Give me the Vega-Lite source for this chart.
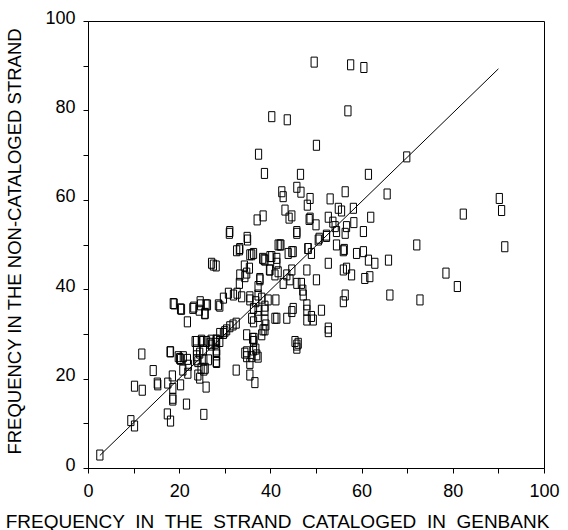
{
  "$schema": "https://vega.github.io/schema/vega-lite/v6.json",
  "width": 456,
  "height": 447,
  "autosize": {"type": "none"},
  "padding": {"left": 88, "top": 21, "right": 24, "bottom": 62},
  "background": "white",
  "config": {
    "view": {"stroke": "#000", "strokeWidth": 1},
    "font": "Liberation Sans",
    "axis": {
      "grid": false,
      "domainColor": "#000",
      "tickColor": "#000",
      "labelColor": "#000",
      "titleColor": "#000",
      "labelFont": "Liberation Sans",
      "titleFont": "Liberation Sans",
      "labelFontSize": 18,
      "titleFontSize": 18.5,
      "titleFontWeight": "normal",
      "tickSize": 5
    }
  },
  "layer": [
    {
      "data": {
        "values": [
          {"x": 49.6, "y": 90.8}, {"x": 57.6, "y": 90.2}, {"x": 60.5, "y": 89.6}, {"x": 40.3, "y": 78.6}, {"x": 43.7, "y": 77.9}, {"x": 57.0, "y": 79.9}, {"x": 50.1, "y": 72.2}, {"x": 37.4, "y": 70.2}, {"x": 38.7, "y": 65.9}, {"x": 46.6, "y": 65.7}, {"x": 61.5, "y": 65.7}, {"x": 69.9, "y": 69.6},
          {"x": 42.5, "y": 61.8}, {"x": 42.8, "y": 60.7}, {"x": 45.8, "y": 62.8}, {"x": 46.7, "y": 61.7}, {"x": 48.7, "y": 60.3}, {"x": 48.1, "y": 58.8}, {"x": 53.1, "y": 60.2}, {"x": 56.4, "y": 61.8}, {"x": 43.2, "y": 57.7}, {"x": 44.7, "y": 56.4}, {"x": 44.1, "y": 55.9}, {"x": 48.7, "y": 55.9}, {"x": 48.5, "y": 55.6}, {"x": 50.0, "y": 54.4}, {"x": 45.8, "y": 52.9}, {"x": 38.4, "y": 56.4}, {"x": 37.1, "y": 55.5}, {"x": 52.7, "y": 56.1}, {"x": 54.9, "y": 58.1}, {"x": 55.6, "y": 57.5}, {"x": 58.2, "y": 58.1}, {"x": 54.2, "y": 54.0}, {"x": 56.7, "y": 54.0}, {"x": 58.3, "y": 54.9}, {"x": 60.4, "y": 52.9}, {"x": 62.0, "y": 56.1}, {"x": 52.3, "y": 51.8}, {"x": 56.4, "y": 52.5}, {"x": 50.7, "y": 51.4}, {"x": 31.1, "y": 52.9}, {"x": 34.9, "y": 51.6}, {"x": 65.6, "y": 61.3}, {"x": 53.7, "y": 55.0},
          {"x": 31.0, "y": 52.5}, {"x": 35.0, "y": 51.0}, {"x": 33.3, "y": 49.1}, {"x": 32.6, "y": 48.6}, {"x": 33.2, "y": 48.8}, {"x": 35.9, "y": 47.7}, {"x": 42.1, "y": 49.9}, {"x": 44.7, "y": 48.4}, {"x": 45.8, "y": 52.5}, {"x": 38.3, "y": 46.9}, {"x": 39.9, "y": 47.3}, {"x": 41.4, "y": 46.9}, {"x": 27.5, "y": 45.4}, {"x": 28.1, "y": 45.2}, {"x": 27.1, "y": 45.8}, {"x": 34.3, "y": 45.2}, {"x": 35.4, "y": 44.7}, {"x": 39.9, "y": 44.3}, {"x": 41.0, "y": 43.2}, {"x": 43.6, "y": 43.2}, {"x": 44.7, "y": 44.3}, {"x": 48.2, "y": 49.1}, {"x": 48.0, "y": 44.3}, {"x": 37.7, "y": 42.4}, {"x": 33.3, "y": 43.2}, {"x": 34.4, "y": 42.8}, {"x": 34.8, "y": 43.6}, {"x": 33.2, "y": 41.3}, {"x": 38.8, "y": 46.5}, {"x": 40.3, "y": 47.3}, {"x": 41.7, "y": 49.9}, {"x": 39.8, "y": 44.3}, {"x": 41.4, "y": 45.8}, {"x": 37.7, "y": 42.1}, {"x": 37.3, "y": 40.6}, {"x": 38.6, "y": 46.7}, {"x": 35.5, "y": 47.7}, {"x": 36.3, "y": 48.0}, {"x": 41.7, "y": 43.9}, {"x": 42.8, "y": 41.3}, {"x": 44.3, "y": 42.1}, {"x": 45.8, "y": 41.3}, {"x": 46.8, "y": 41.3}, {"x": 47.1, "y": 39.8}, {"x": 47.2, "y": 38.7}, {"x": 50.1, "y": 42.1},
          {"x": 50.5, "y": 51.0}, {"x": 52.3, "y": 52.1}, {"x": 54.5, "y": 52.9}, {"x": 42.3, "y": 49.9}, {"x": 43.9, "y": 48.0}, {"x": 45.0, "y": 48.4}, {"x": 48.3, "y": 49.1}, {"x": 49.0, "y": 48.0}, {"x": 54.5, "y": 49.9}, {"x": 56.0, "y": 48.6}, {"x": 56.2, "y": 48.9}, {"x": 58.9, "y": 48.0}, {"x": 60.4, "y": 48.4}, {"x": 61.5, "y": 46.5}, {"x": 62.9, "y": 45.8}, {"x": 52.7, "y": 45.8}, {"x": 56.0, "y": 44.3}, {"x": 56.7, "y": 44.7}, {"x": 57.8, "y": 43.2}, {"x": 60.7, "y": 42.4}, {"x": 61.8, "y": 42.8},
          {"x": 90.2, "y": 60.3}, {"x": 90.7, "y": 57.6}, {"x": 82.3, "y": 56.8}, {"x": 72.1, "y": 49.9}, {"x": 91.4, "y": 49.5}, {"x": 65.9, "y": 46.5}, {"x": 78.5, "y": 43.6}, {"x": 81.0, "y": 40.6}, {"x": 66.2, "y": 38.7}, {"x": 72.8, "y": 37.6},
          {"x": 30.8, "y": 39.1}, {"x": 31.9, "y": 38.7}, {"x": 32.7, "y": 39.1}, {"x": 33.7, "y": 38.3}, {"x": 29.7, "y": 38.0}, {"x": 28.6, "y": 36.5}, {"x": 35.5, "y": 37.6}, {"x": 36.8, "y": 37.2}, {"x": 38.1, "y": 38.0}, {"x": 36.3, "y": 35.7}, {"x": 37.3, "y": 35.3}, {"x": 38.8, "y": 36.2}, {"x": 39.5, "y": 37.6}, {"x": 38.8, "y": 35.3}, {"x": 41.2, "y": 37.6}, {"x": 37.3, "y": 33.9}, {"x": 36.3, "y": 32.7}, {"x": 38.8, "y": 33.1}, {"x": 39.0, "y": 32.0}, {"x": 38.8, "y": 30.9}, {"x": 41.0, "y": 33.5}, {"x": 36.1, "y": 29.0}, {"x": 35.5, "y": 38.3}, {"x": 37.3, "y": 38.7}, {"x": 35.9, "y": 33.5}, {"x": 38.4, "y": 30.9}, {"x": 36.4, "y": 29.0}, {"x": 38.1, "y": 29.8},
          {"x": 56.0, "y": 37.2}, {"x": 56.4, "y": 38.7}, {"x": 48.0, "y": 36.5}, {"x": 48.0, "y": 35.3}, {"x": 45.0, "y": 35.7}, {"x": 44.7, "y": 35.0}, {"x": 43.6, "y": 33.5}, {"x": 41.4, "y": 33.5}, {"x": 48.0, "y": 33.1}, {"x": 49.0, "y": 33.9}, {"x": 49.4, "y": 33.1}, {"x": 51.2, "y": 35.3}, {"x": 52.7, "y": 31.3}, {"x": 45.4, "y": 28.3}, {"x": 46.1, "y": 27.9}, {"x": 45.8, "y": 26.8}, {"x": 45.8, "y": 27.5}, {"x": 52.7, "y": 30.5},
          {"x": 18.7, "y": 36.8}, {"x": 20.3, "y": 35.6}, {"x": 23.0, "y": 35.7}, {"x": 24.6, "y": 37.2}, {"x": 26.2, "y": 36.5}, {"x": 24.4, "y": 35.3}, {"x": 25.7, "y": 34.6}, {"x": 21.8, "y": 32.7}, {"x": 30.4, "y": 30.9}, {"x": 31.1, "y": 31.6}, {"x": 29.7, "y": 30.1}, {"x": 28.2, "y": 28.6}, {"x": 27.9, "y": 27.9}, {"x": 27.1, "y": 27.5}, {"x": 26.0, "y": 28.3}, {"x": 24.9, "y": 28.6}, {"x": 23.5, "y": 28.3}, {"x": 25.3, "y": 26.4}, {"x": 28.2, "y": 26.4}, {"x": 34.8, "y": 26.0}, {"x": 36.3, "y": 26.4}, {"x": 37.0, "y": 25.3}, {"x": 34.8, "y": 24.9}, {"x": 34.8, "y": 29.8}, {"x": 18.9, "y": 36.7}, {"x": 20.5, "y": 35.5}, {"x": 23.2, "y": 36.0}, {"x": 24.7, "y": 36.5}, {"x": 25.9, "y": 36.5}, {"x": 25.6, "y": 34.5}, {"x": 28.9, "y": 36.2}, {"x": 28.9, "y": 30.1}, {"x": 30.0, "y": 30.5}, {"x": 31.8, "y": 32.0}, {"x": 32.5, "y": 32.4}, {"x": 23.8, "y": 28.3}, {"x": 25.2, "y": 28.3}, {"x": 27.0, "y": 28.6}, {"x": 28.1, "y": 28.6}, {"x": 26.8, "y": 27.9}, {"x": 28.9, "y": 28.3}, {"x": 36.3, "y": 28.3}, {"x": 36.8, "y": 26.6},
          {"x": 18.0, "y": 26.0}, {"x": 19.8, "y": 24.9}, {"x": 20.9, "y": 24.9}, {"x": 23.8, "y": 25.1}, {"x": 2.6, "y": 2.9}, {"x": 9.4, "y": 10.6}, {"x": 10.2, "y": 9.4}, {"x": 17.4, "y": 12.1}, {"x": 18.1, "y": 10.5}, {"x": 25.4, "y": 12.0}, {"x": 18.6, "y": 15.6}, {"x": 18.6, "y": 15.2}, {"x": 21.6, "y": 14.3}, {"x": 10.2, "y": 18.3}, {"x": 11.9, "y": 17.4}, {"x": 15.2, "y": 19.0}, {"x": 15.3, "y": 18.6}, {"x": 17.5, "y": 19.0}, {"x": 18.6, "y": 17.8}, {"x": 20.3, "y": 18.6}, {"x": 18.5, "y": 20.6}, {"x": 14.3, "y": 21.8}, {"x": 11.8, "y": 25.5}, {"x": 18.1, "y": 26.0}, {"x": 20.1, "y": 24.5}, {"x": 20.3, "y": 24.3}, {"x": 21.8, "y": 24.3}, {"x": 20.8, "y": 21.9}, {"x": 21.9, "y": 21.2}, {"x": 24.5, "y": 25.7}, {"x": 24.1, "y": 23.8}, {"x": 24.8, "y": 22.3}, {"x": 25.4, "y": 21.9}, {"x": 24.1, "y": 20.8}, {"x": 24.5, "y": 20.1}, {"x": 25.9, "y": 18.1}, {"x": 28.1, "y": 23.8}, {"x": 28.1, "y": 26.0}, {"x": 32.5, "y": 21.9}, {"x": 22.0, "y": 23.0}, {"x": 23.8, "y": 26.4}, {"x": 23.8, "y": 24.2}, {"x": 25.4, "y": 24.2}, {"x": 26.4, "y": 24.2}, {"x": 25.7, "y": 22.3}, {"x": 28.2, "y": 25.3}, {"x": 28.2, "y": 23.6}, {"x": 34.4, "y": 25.7}, {"x": 35.9, "y": 24.9}, {"x": 37.3, "y": 24.8}, {"x": 35.5, "y": 23.4}, {"x": 35.5, "y": 20.8}, {"x": 36.6, "y": 19.1}
        ]
      },
      "mark": {"type": "point", "shape": "M-0.62,-1H0.62V1H-0.62Z", "size": 100, "filled": false, "stroke": "#000", "strokeWidth": 1, "opacity": 1},
      "encoding": {
        "x": {
          "field": "x", "type": "quantitative",
          "scale": {"domain": [0, 100], "nice": false, "zero": false},
          "axis": {
            "values": [0, 10, 20, 30, 40, 50, 60, 70, 80, 90, 100],
            "labelExpr": "datum.value % 20 === 0 ? datum.label : ''",
            "labelPadding": 9,
            "labelFlush": false,
            "title": "FREQUENCY \u00a0IN \u00a0THE \u00a0STRAND \u00a0CATALOGED \u00a0IN \u00a0GENBANK",
            "titleFontSize": 19,
            "titleX": 189,
            "titleY": 53,
            "titleBaseline": "middle",
            "titleAlign": "center"
          }
        },
        "y": {
          "field": "y", "type": "quantitative",
          "scale": {"domain": [0, 100], "nice": false, "zero": false},
          "axis": {
            "values": [0, 10, 20, 30, 40, 50, 60, 70, 80, 90, 100],
            "labelExpr": "datum.value % 20 === 0 ? datum.label : ''",
            "labelPadding": 8,
            "labelFlush": false,
            "labelOffset": -3,
            "title": "FREQUENCY IN THE NON-CATALOGED STRAND",
            "titleX": -74,
            "titleY": 220,
            "titleBaseline": "middle",
            "titleAlign": "center"
          }
        }
      }
    },
    {
      "data": {"values": [{"x": 2.6, "y": 2.8}, {"x": 90, "y": 89.3}]},
      "mark": {"type": "line", "color": "#000", "strokeWidth": 1},
      "encoding": {
        "x": {"field": "x", "type": "quantitative"},
        "y": {"field": "y", "type": "quantitative"}
      }
    }
  ]
}
